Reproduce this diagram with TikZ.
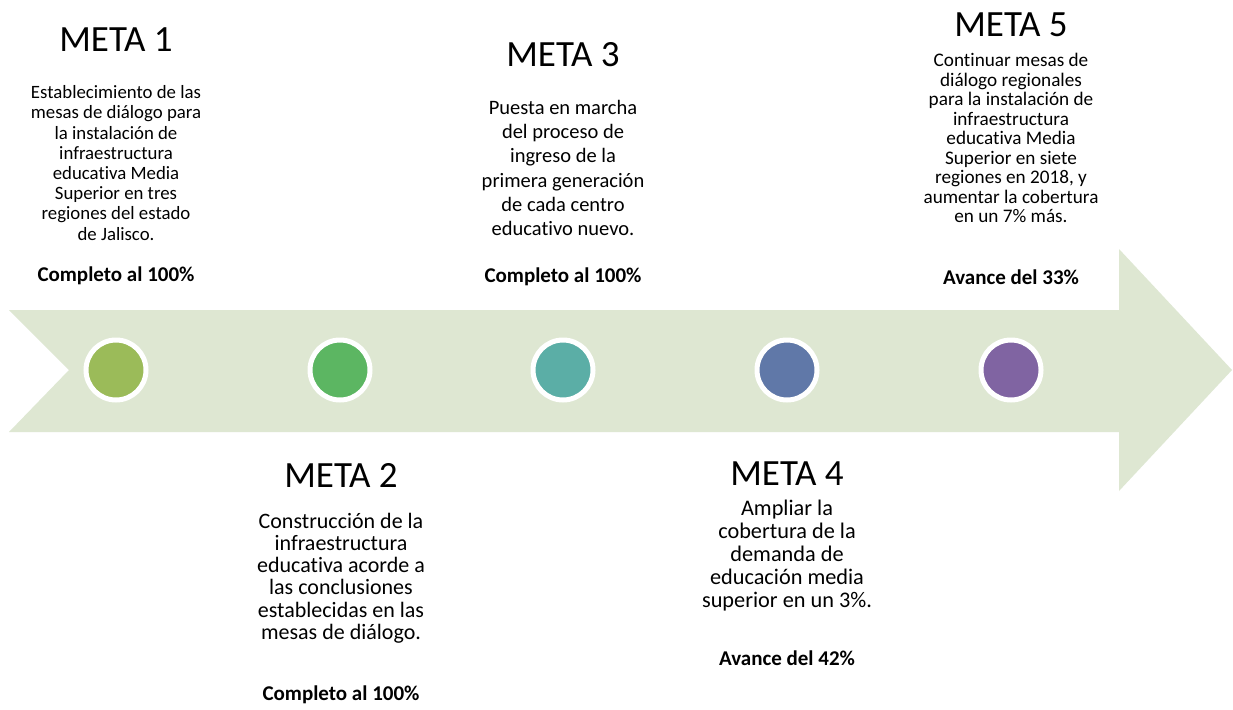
\documentclass[tikz,border=0pt]{standalone}
\usepackage{fontspec}
\setmainfont{Carlito}[Ligatures=NoCommon]
\definecolor{arrowfill}{RGB}{222,231,210}
\definecolor{cA}{RGB}{155,187,89}
\definecolor{cB}{RGB}{92,182,98}
\definecolor{cC}{RGB}{91,174,166}
\definecolor{cD}{RGB}{96,120,168}
\definecolor{cE}{RGB}{128,100,162}
\tikzset{
  heading/.style={inner sep=0pt, font=\fontsize{37}{40}\selectfont},
  bodytext/.style={inner sep=0pt, align=center},
  status/.style={inner sep=0pt, font=\fontsize{21}{24}\selectfont\bfseries},
  dot/.style={circle, minimum size=60pt, inner sep=0pt, draw=white, line width=5pt},
}
\begin{document}
\begin{tikzpicture}[x=1pt,y=-1pt]
\useasboundingbox (0,0) rectangle (1233,709);
\fill[white] (0,0) rectangle (1233,709);
% arrow
\fill[arrowfill] (9,310) -- (1119,310) -- (1119,249) -- (1232,370) -- (1119,491) -- (1119,432) -- (9,432) -- (69,370) -- cycle;
% dots
\node[dot, fill=cA] (d1) at (116,370) {};
\node[dot, fill=cB] (d2) at (340,370) {};
\node[dot, fill=cC] (d3) at (563,370) {};
\node[dot, fill=cD] (d4) at (787,370) {};
\node[dot, fill=cE] (d5) at (1011,370) {};
% META 1
\node[heading] (h1) at (116,40) {META 1};
\node[bodytext, font=\fontsize{18.8}{20.2}\selectfont] (b1) at (116,163) {Establecimiento de las\\mesas de diálogo para\\la instalación de\\infraestructura\\educativa Media\\Superior en tres\\regiones del estado\\de Jalisco.};
\node[status] (s1) at (116,276) {Completo al 100\%};
% META 2
\node[heading] (h2) at (341,475) {META 2};
\node[bodytext, font=\fontsize{22}{22.3}\selectfont] (b2) at (341,578) {Construcción de la\\infraestructura\\educativa acorde a\\las conclusiones\\establecidas en las\\mesas de diálogo.};
\node[status] (s2) at (341,695) {Completo al 100\%};
% META 3
\node[heading] (h3) at (563,55) {META 3};
\node[bodytext, font=\fontsize{20.5}{24.2}\selectfont] (b3) at (563,168) {Puesta en marcha\\del proceso de\\ingreso de la\\primera generación\\de cada centro\\educativo nuevo.};
\node[status] (s3) at (563,277) {Completo al 100\%};
% META 4
\node[heading] (h4) at (787,474) {META 4};
\node[bodytext, font=\fontsize{22.3}{23}\selectfont] (b4) at (787,556) {Ampliar la\\cobertura de la\\demanda de\\educación media\\superior en un 3\%.};
\node[status] (s4) at (787,658) {Avance del 42\%};
% META 5
\node[heading] (h5) at (1011,25) {META 5};
\node[bodytext, font=\fontsize{19.2}{19.5}\selectfont] (b5) at (1011,138) {Continuar mesas de\\diálogo regionales\\para la instalación de\\infraestructura\\educativa Media\\Superior en siete\\regiones en 2018, y\\aumentar la cobertura\\en un 7\% más.};
\node[status] (s5) at (1011,277) {Avance del 33\%};
\end{tikzpicture}
\end{document}
